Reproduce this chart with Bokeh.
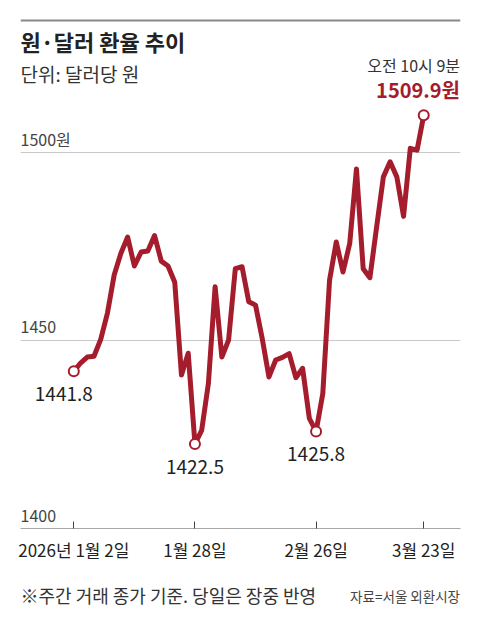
from bokeh.plotting import figure
from bokeh.layouts import column
from bokeh.models import Range1d, FixedTicker, Label, Span
from bokeh.core.properties import value
from bokeh.embed import file_html
from bokeh.resources import INLINE

# ---- data ----
dates = ["01-02", "01-05", "01-06", "01-07", "01-08", "01-09",
         "01-12", "01-13", "01-14", "01-15", "01-16",
         "01-19", "01-20", "01-21", "01-22", "01-23",
         "01-26", "01-27", "01-28", "01-29", "01-30",
         "02-02", "02-03", "02-04", "02-05", "02-06",
         "02-09", "02-10", "02-11", "02-12", "02-13",
         "02-19", "02-20", "02-23", "02-24", "02-25", "02-26",
         "02-27", "03-03", "03-04", "03-05", "03-06",
         "03-09", "03-10", "03-11", "03-12", "03-13",
         "03-16", "03-17", "03-18", "03-19", "03-20", "03-23"]
rates = [1441.8, 1444.0, 1445.6, 1445.8, 1450.3, 1457.3,
         1467.4, 1473.2, 1477.5, 1469.8, 1473.5,
         1473.8, 1477.9, 1471.1, 1469.8, 1465.5,
         1440.8, 1446.6, 1422.5, 1426.1, 1438.6,
         1464.3, 1445.6, 1450.1, 1469.1, 1469.6,
         1460.3, 1459.4, 1450.5, 1440.3, 1444.8,
         1445.5, 1446.5, 1440.1, 1442.6, 1429.3, 1425.8,
         1435.9, 1466.0, 1476.2, 1468.2, 1475.8,
         1495.6, 1469.1, 1466.7, 1480.2, 1493.5,
         1497.5, 1493.5, 1483.0, 1501.1, 1500.6, 1509.9]
x_tick_idx = [0, 18, 36, 52]
x_tick_labels = ["2026년 1월 2일", "1월 28일", "2월 26일", "3월 23일"]
y_ticks = [1400, 1450, 1500]
y_tick_labels = ["1400", "1450", "1500원"]
mark_idx = [0, 18, 36]
mark_text = ["1441.8", "1422.5", "1425.8"]
title_text = "원·달러 환율 추이"
unit_text = "단위: 달러당 원"
time_text = "오전 10시 9분"
last_text = "1509.9원"
foot_text = "※주간 거래 종가 기준. 당일은 장중 반영"
src_text = "자료=서울 외환시장"

RED = "#a51d2d"
FONT = "Noto Sans CJK KR"

xs = list(range(len(rates)))
x_start, x_end = -7.92, 57.46

p = figure(width=480, height=570, output_backend="svg", toolbar_location=None,
           x_range=Range1d(x_start, x_end), y_range=Range1d(1400, 1540.4),
           min_border_left=20, min_border_right=20, min_border_top=0,
           min_border_bottom=42)
p.outline_line_color = None
p.yaxis.visible = False
p.xgrid.visible = False
p.ygrid.ticker = FixedTicker(ticks=y_ticks)
p.ygrid.grid_line_color = "#c8c8c8"
p.ygrid.grid_line_width = 1

xa = p.xaxis[0]
xa.ticker = FixedTicker(ticks=x_tick_idx)
xa.major_label_overrides = {i: lab for i, lab in zip(x_tick_idx, x_tick_labels)}
xa.axis_line_color = "#a8a8a8"
xa.axis_line_width = 1
xa.major_tick_in = 7
xa.major_tick_out = 0
xa.major_tick_line_color = "#444444"
xa.minor_tick_line_color = None
xa.major_label_text_font = FONT
xa.major_label_text_font_size = "17px"
xa.major_label_text_color = "#222222"
xa.major_label_standoff = 8

# top rule
p.add_layout(Span(location=1535.1, dimension="width", line_color="#888888", line_width=2))

# y labels
p.text(x=[x_start] * len(y_ticks), y=y_ticks, text=y_tick_labels,
       text_font=value(FONT), text_font_size="16px", text_color="#444444",
       text_align="left", text_baseline="middle", y_offset=-13)

# line
p.line(xs, rates, line_width=5, line_color=RED, line_join="round")

# markers
m_idx = mark_idx + [len(rates) - 1]
p.scatter([xs[i] for i in m_idx], [rates[i] for i in m_idx], size=10,
          fill_color="white", line_color=RED, line_width=2)

# min/start annotations
p.text(x=[xs[mark_idx[0]]], y=[rates[mark_idx[0]]], text=[mark_text[0]],
       text_font=value(FONT), text_font_size="19px", text_color="#222222",
       text_align="center", text_baseline="middle", x_offset=-10, y_offset=23)
p.text(x=[xs[i] for i in mark_idx[1:]], y=[rates[i] for i in mark_idx[1:]],
       text=mark_text[1:], text_font=value(FONT), text_font_size="19px",
       text_color="#222222", text_align="center", text_baseline="middle",
       y_offset=23)


def lab(fig, txt, sx, sy, size, color="#222222", align="left", style="normal"):
    fig.add_layout(Label(x=sx, y=sy, x_units="screen", y_units="screen", text=txt,
                         text_font=FONT, text_font_size=size, text_color=color,
                         text_align=align, text_baseline="middle",
                         text_font_style=style))


lab(p, title_text, 0, 487.5, "22px", "#222222", style="bold")
lab(p, unit_text, 0, 455, "19px", "#333333")
lab(p, time_text, 439.5, 464, "16px", "#333333", align="right")
lab(p, last_text, 439.5, 439, "20px", RED, align="right", style="bold")

# footer (its frame is aligned with the main frame: x 20..460)
f = figure(width=480, height=55, output_backend="svg", toolbar_location=None,
           x_range=Range1d(0, 1), y_range=Range1d(0, 1),
           x_axis_location=None, y_axis_location=None,
           min_border_left=20, min_border_right=20, min_border_top=0,
           min_border_bottom=0)
f.outline_line_color = None
f.grid.visible = False
lab(f, foot_text, 0, 30.5, "18px", "#333333")
lab(f, src_text, 439.5, 30, "13.5px", "#444444", align="right")

layout = column(p, f, spacing=0)
open("out.html", "w").write(file_html(layout, INLINE))
